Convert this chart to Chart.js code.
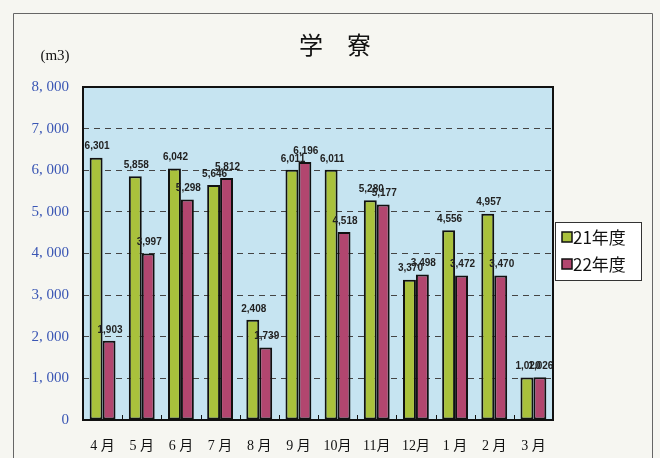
<!DOCTYPE html>
<html lang="ja">
<head>
<meta charset="utf-8">
<title>学寮</title>
<script src="https://cdn.jsdelivr.net/npm/chart.js@4"></script>
<style>
  html, body { margin: 0; padding: 0; background: #f6f6f1; }
  #wrap { width: 660px; height: 458px; position: relative; }
</style>
</head>
<body>
<div id="wrap"><canvas id="chart" width="660" height="458"></canvas></div>
<script>
(() => {
  "use strict";

  const MONTHS = ["4 月", "5 月", "6 月", "7 月", "8 月", "9 月", "10月", "11月", "12月", "1 月", "2 月", "3 月"];
  const FY21 = [6301, 5858, 6042, 5646, 2408, 6011, 6011, 5280, 3370, 4556, 4957, 1020];
  const FY22 = [1903, 3997, 5298, 5812, 1739, 6196, 4518, 5177, 3498, 3472, 3470, 1026];
  const SERIES_NAMES = ["21年度", "22年度"];
  const Y_MAX = 8000;
  const Y_STEP = 1000;

  const GREEN = "#a9c13c";
  const MAROON = "#b2466f";
  const SERIF = '"Liberation Serif", "DejaVu Serif", "Noto Sans CJK JP", serif';

  // plot box: x 83..553, y 87..420
  const fmtTick = (v) => v >= 1000 ? Math.floor(v / 1000) + ", " + String(v % 1000).padStart(3, "0") : String(v);
  const fmtLabel = (v) => v.toLocaleString("en-US");

  // ── background, frame, title, legend ───────────────────────────────────
  const decor = {
    id: "decor",
    beforeDraw(chart) {
      const { ctx, chartArea: a } = chart;
      ctx.save();
      ctx.strokeStyle = "#666";
      ctx.lineWidth = 1;
      ctx.beginPath();
      ctx.moveTo(13.5, 458);
      ctx.lineTo(13.5, 13.5);
      ctx.lineTo(652.5, 13.5);
      ctx.lineTo(652.5, 458);
      ctx.stroke();
      ctx.fillStyle = "#c6e4f1";
      ctx.fillRect(a.left, a.top, a.right - a.left, a.bottom - a.top);
      ctx.restore();
    },
    afterDraw(chart) {
      const { ctx, chartArea: a } = chart;
      const xs = chart.scales.x;
      ctx.save();
      // little tick marks between month groups
      ctx.strokeStyle = "#111";
      ctx.lineWidth = 1;
      ctx.beginPath();
      for (let i = 1; i < MONTHS.length; i++) {
        const x = Math.round((xs.getPixelForTick(i - 1) + xs.getPixelForTick(i)) / 2) + 0.5;
        ctx.moveTo(x, a.bottom);
        ctx.lineTo(x, a.bottom - 5);
      }
      ctx.stroke();

      ctx.strokeStyle = "#111";
      ctx.lineWidth = 2;
      ctx.strokeRect(a.left, a.top, a.right - a.left, a.bottom - a.top);

      ctx.fillStyle = "#111";
      ctx.textAlign = "center";
      ctx.textBaseline = "middle";
      ctx.font = '24px "Noto Sans CJK JP", serif';
      ctx.fillText("学　寮", 335, 45);
      ctx.font = "15px " + SERIF;
      ctx.fillText("(m3)", 55, 56);

      // legend
      ctx.fillStyle = "#fff";
      ctx.fillRect(555, 222, 86, 58);
      ctx.strokeStyle = "#333";
      ctx.lineWidth = 1;
      ctx.strokeRect(555.5, 222.5, 86, 58);
      const colors = [GREEN, MAROON];
      SERIES_NAMES.forEach((name, i) => {
        const y = 237 + i * 27;
        ctx.fillStyle = colors[i];
        ctx.fillRect(562, y - 5, 10, 10);
        ctx.strokeStyle = "#111";
        ctx.lineWidth = 1.5;
        ctx.strokeRect(562, y - 5, 10, 10);
        ctx.fillStyle = "#111";
        ctx.textAlign = "left";
        ctx.font = '17px "Noto Sans CJK JP", serif';
        ctx.fillText(name, 573, y + 1);
      });
      ctx.restore();
    },
  };

  // ── value labels over the bars ──────────────────────────────────────────
  const valueLabels = {
    id: "valueLabels",
    afterDatasetsDraw(chart) {
      const { ctx } = chart;
      ctx.save();
      ctx.font = 'bold 10px "Liberation Sans", Arial, sans-serif';
      ctx.fillStyle = "#222";
      ctx.textAlign = "center";
      ctx.textBaseline = "bottom";
      chart.data.datasets.forEach((ds, di) => {
        chart.getDatasetMeta(di).data.forEach((bar, i) => {
          ctx.fillText(fmtLabel(ds.data[i]), bar.x + 1, bar.y - 6);
        });
      });
      ctx.restore();
    },
  };

  new Chart(document.getElementById("chart"), {
    type: "bar",
    data: {
      labels: MONTHS,
      datasets: [
        { label: SERIES_NAMES[0], data: FY21, backgroundColor: GREEN },
        { label: SERIES_NAMES[1], data: FY22, backgroundColor: MAROON },
      ],
    },
    options: {
      responsive: false,
      animation: false,
      layout: { padding: { left: 0, right: 107, top: 87, bottom: 0 } },
      datasets: {
        bar: {
          borderColor: "#111",
          borderWidth: 2,
          borderSkipped: false,
          categoryPercentage: 0.66,
          barPercentage: 1.0,
        },
      },
      plugins: {
        legend: { display: false },
        title: { display: false },
        tooltip: { enabled: false },
      },
      scales: {
        x: {
          afterFit: (s) => { s.height = 38; },
          grid: { display: false },
          border: { display: false },
          ticks: {
            color: "#111",
            padding: 10,
            maxRotation: 0,
            autoSkip: false,
            font: { family: SERIF, size: 14 },
          },
        },
        y: {
          min: 0,
          max: Y_MAX,
          afterFit: (s) => { s.width = 83; },
          border: { display: false, dash: [6, 5] },
          grid: {
            color: "#444",
            lineWidth: 1,
            drawTicks: false,
          },
          ticks: {
            stepSize: Y_STEP,
            padding: 14,
            color: "#3a56b4",
            font: { family: SERIF, size: 15 },
            callback: (v) => fmtTick(v),
          },
        },
      },
    },
    plugins: [decor, valueLabels],
  });
})();
</script>
</body>
</html>
